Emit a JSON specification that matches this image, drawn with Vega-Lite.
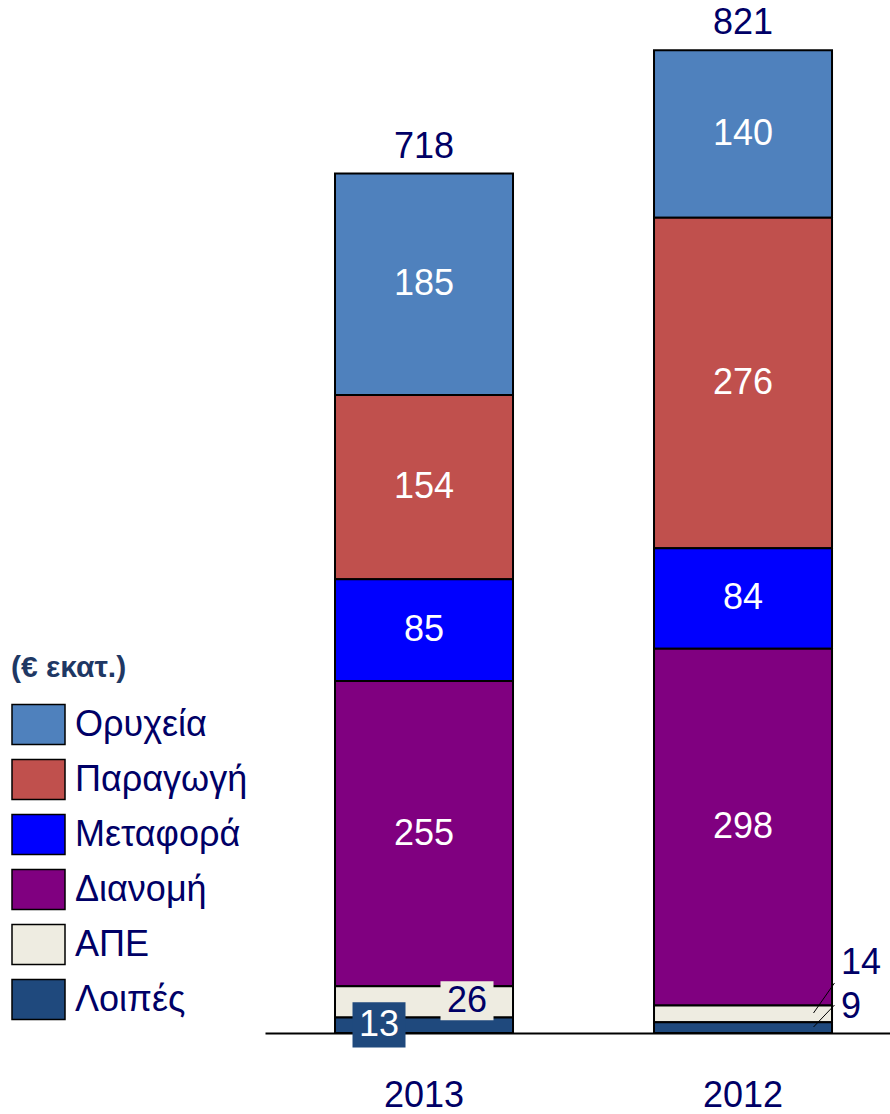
{
  "$schema": "https://vega.github.io/schema/vega-lite/v6.json",
  "width": 625,
  "height": 1033,
  "autosize": {"type": "none"},
  "padding": {"left": 265, "top": 0, "right": 0, "bottom": 81},
  "config": {"view": {"stroke": null}, "font": "Liberation Sans"},
  "datasets": {
    "segments": [
      {"year": "2013", "cat": "Ορυχεία", "value": 185, "ord": 6},
      {"year": "2013", "cat": "Παραγωγή", "value": 154, "ord": 5},
      {"year": "2013", "cat": "Μεταφορά", "value": 85, "ord": 4},
      {"year": "2013", "cat": "Διανομή", "value": 255, "ord": 3},
      {"year": "2013", "cat": "ΑΠΕ", "value": 26, "ord": 2},
      {"year": "2013", "cat": "Λοιπές", "value": 13, "ord": 1},
      {"year": "2012", "cat": "Ορυχεία", "value": 140, "ord": 6},
      {"year": "2012", "cat": "Παραγωγή", "value": 276, "ord": 5},
      {"year": "2012", "cat": "Μεταφορά", "value": 84, "ord": 4},
      {"year": "2012", "cat": "Διανομή", "value": 298, "ord": 3},
      {"year": "2012", "cat": "ΑΠΕ", "value": 14, "ord": 2},
      {"year": "2012", "cat": "Λοιπές", "value": 9, "ord": 1}
    ],
    "notes": [
      {"year": "2013", "label": "13", "pos": 6.8},
      {"year": "2013", "label": "26", "pos": 27},
      {"year": "2012", "label": "14", "pos": 58.5},
      {"year": "2012", "label": "9", "pos": 21.7}
    ],
    "leaders": [
      {"year": "2012", "ya": 16.7, "yb": 41.8},
      {"year": "2012", "ya": 5, "yb": 23.4}
    ]
  },
  "encoding": {
    "x": {
      "field": "year",
      "type": "nominal",
      "sort": ["2013", "2012"],
      "scale": {"paddingInner": 0.442, "paddingOuter": 0.2006, "align": 0.547},
      "axis": {
        "title": null,
        "labelAngle": 0,
        "labelFontSize": 36,
        "labelColor": "#000066",
        "ticks": false,
        "domainColor": "black",
        "domainWidth": 2,
        "labelPadding": 45
      }
    }
  },
  "layer": [
    {
      "data": {"name": "segments"},
      "mark": {"type": "bar", "stroke": "black", "strokeWidth": 2},
      "encoding": {
        "y": {"field": "value", "type": "quantitative", "aggregate": "sum", "stack": "zero", "scale": {"domain": [0, 863], "nice": false}, "axis": null},
        "color": {
          "field": "cat",
          "type": "nominal",
          "scale": {
            "domain": ["Ορυχεία", "Παραγωγή", "Μεταφορά", "Διανομή", "ΑΠΕ", "Λοιπές"],
            "range": ["#4F81BD", "#C0504D", "#0000FF", "#800080", "#EEECE1", "#1F497D"]
          },
          "legend": {
            "orient": "none",
            "legendX": -254,
            "legendY": 653,
            "title": "(€ εκατ.)",
            "titleFont": "Liberation Sans",
            "titleFontSize": 30,
            "titleFontWeight": "bold",
            "titleColor": "#1F3864",
            "titlePadding": 14,
            "labelFontSize": 36,
            "labelLimit": 400,
            "labelColor": "#000066",
            "labelOffset": 9,
            "symbolType": "M-1,-0.755L1,-0.755L1,0.755L-1,0.755Z",
            "symbolSize": 2809,
            "symbolStrokeColor": "black",
            "symbolStrokeWidth": 1.5,
            "symbolOpacity": 1,
            "rowPadding": 4
          }
        },
        "order": {"field": "ord", "type": "quantitative"}
      }
    },
    {
      "data": {"name": "segments"},
      "transform": [
        {"stack": "value", "groupby": ["year"], "sort": [{"field": "ord", "order": "ascending"}], "as": ["y0", "y1"]},
        {"filter": "datum.value >= 30"},
        {"calculate": "(datum.y0 + datum.y1) / 2", "as": "mid"}
      ],
      "mark": {"type": "text", "fontSize": 36, "color": "white", "baseline": "middle"},
      "encoding": {
        "y": {"field": "mid", "type": "quantitative", "scale": {"domain": [0, 863], "nice": false}},
        "text": {"field": "value", "type": "quantitative"}
      }
    },
    {
      "data": {"name": "segments"},
      "transform": [{"aggregate": [{"op": "sum", "field": "value", "as": "total"}], "groupby": ["year"]}],
      "mark": {"type": "text", "fontSize": 36, "color": "#000066", "baseline": "alphabetic", "dy": -16},
      "encoding": {
        "y": {"field": "total", "type": "quantitative", "scale": {"domain": [0, 863], "nice": false}},
        "text": {"field": "total", "type": "quantitative"}
      }
    },
    {
      "data": {"name": "notes"},
      "transform": [{"filter": "datum.label == '13'"}],
      "mark": {"type": "point", "shape": "M-1,-0.85L1,-0.85L1,0.85L-1,0.85Z", "size": 2809, "filled": true, "opacity": 1, "color": "#1F497D", "xOffset": -45},
      "encoding": {"y": {"field": "pos", "type": "quantitative", "scale": {"domain": [0, 863], "nice": false}}}
    },
    {
      "data": {"name": "notes"},
      "transform": [{"filter": "datum.label == '13'"}],
      "mark": {"type": "text", "fontSize": 36, "color": "white", "baseline": "middle", "xOffset": -45},
      "encoding": {
        "y": {"field": "pos", "type": "quantitative", "scale": {"domain": [0, 863], "nice": false}},
        "text": {"field": "label"}
      }
    },
    {
      "data": {"name": "notes"},
      "transform": [{"filter": "datum.label == '26'"}],
      "mark": {"type": "point", "shape": "M-1,-0.736L1,-0.736L1,0.736L-1,0.736Z", "size": 2809, "filled": true, "opacity": 1, "color": "#EEECE1", "xOffset": 43},
      "encoding": {"y": {"field": "pos", "type": "quantitative", "scale": {"domain": [0, 863], "nice": false}}}
    },
    {
      "data": {"name": "notes"},
      "transform": [{"filter": "datum.label == '26'"}],
      "mark": {"type": "text", "fontSize": 36, "color": "#000066", "baseline": "middle", "xOffset": 43},
      "encoding": {
        "y": {"field": "pos", "type": "quantitative", "scale": {"domain": [0, 863], "nice": false}},
        "text": {"field": "label"}
      }
    },
    {
      "data": {"name": "leaders"},
      "mark": {"type": "rule", "color": "black", "strokeWidth": 1, "xOffset": 70.5, "x2Offset": 91.5},
      "encoding": {
        "x2": {"field": "year"},
        "y": {"field": "ya", "type": "quantitative", "scale": {"domain": [0, 863], "nice": false}},
        "y2": {"field": "yb"}
      }
    },
    {
      "data": {"name": "notes"},
      "transform": [{"filter": "datum.year == '2012'"}],
      "mark": {"type": "text", "fontSize": 36, "color": "#000066", "baseline": "middle", "align": "left", "xOffset": 98},
      "encoding": {
        "y": {"field": "pos", "type": "quantitative", "scale": {"domain": [0, 863], "nice": false}},
        "text": {"field": "label"}
      }
    }
  ]
}
